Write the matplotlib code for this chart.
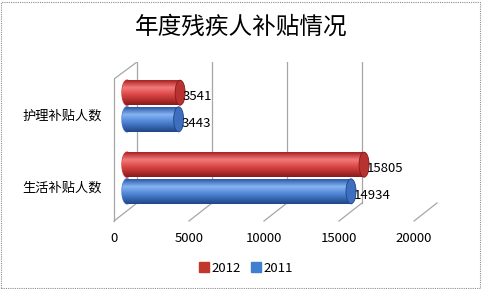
import numpy as np
import matplotlib
matplotlib.use("Agg")
import matplotlib.pyplot as plt
from matplotlib.patches import Ellipse, Patch, Rectangle
from matplotlib.colors import to_rgb

plt.rcParams['font.family'] = ['Noto Sans CJK SC', 'DejaVu Sans']

categories = ["生活补贴人数", "护理补贴人数"]
years = ["2012", "2011"]
values_2012 = [15805, 3541]
values_2011 = [14934, 3443]
xticks = [0, 5000, 10000, 15000, 20000]
title = "年度残疾人补贴情况"

# pixel geometry of the fake 3D frame
W, H = 482, 289
PX0, PX1 = 114, 436          # axes left / right in px
PY_BOT, PY_TOP = 220, 62     # axes bottom / top in px
UPP = 20000 / 300            # value units per px on front plane
DEPTH_X = 23 * UPP           # back wall shift
CAT_PX = 72                  # px per category step
YMIN = -(PY_BOT - 178) / CAT_PX
YMAX = 1 + (106 - PY_TOP) / CAT_PX
START = 13 * UPP             # bars start a little behind the front plane
BAR_H = 25 / CAT_PX
OFF = 0.185


def py(p):
    return YMIN + (PY_BOT - p) / CAT_PX


fig = plt.figure(figsize=(W / 100, H / 100), dpi=100)
ax = fig.add_axes([PX0 / W, 1 - PY_BOT / H, (PX1 - PX0) / W, (PY_BOT - PY_TOP) / H])
ax.set_xlim(0, (PX1 - PX0) * UPP)
ax.set_ylim(YMIN, YMAX)
for s in ax.spines.values():
    s.set_visible(False)

grid_c = "#a6a6a6"
for t in xticks:
    ax.plot([t + DEPTH_X, t + DEPTH_X], [py(203), py(62)], color=grid_c, lw=0.9, zorder=1)
    ax.plot([t, t + DEPTH_X], [py(221), py(203)], color=grid_c, lw=0.9, zorder=1,
            clip_on=False)
ax.plot([0, 0], [py(221), py(79)], color=grid_c, lw=0.9, clip_on=False, zorder=1)
ax.plot([0, DEPTH_X], [py(79), py(62)], color=grid_c, lw=0.9, zorder=1)

ax.set_xticks(xticks)
ax.set_xticklabels([str(t) for t in xticks], fontsize=9.5)
ax.set_yticks(np.arange(len(categories)) - 9 / CAT_PX)
ax.set_yticklabels(categories, fontsize=9.5)
ax.tick_params(axis='x', length=0, pad=9)
ax.tick_params(axis='y', length=0, pad=9)

styles = {
    "2012": dict(top="#a82222", hi="#f47a7a", mid="#d94444", bot="#8a1a1a",
                 cap="#b83232", leg="#c0392b"),
    "2011": dict(top="#2a5aa8", hi="#86b4f2", mid="#4d84d4", bot="#1f4586",
                 cap="#3d6fbe", leg="#3f7fd0"),
}


def gradient(st):
    stops = [(0.0, st["top"]), (0.3, st["hi"]), (0.6, st["mid"]), (1.0, st["bot"])]
    n = 64
    pos = np.linspace(0, 1, n)
    cols = np.zeros((n, 1, 3))
    for ch in range(3):
        cols[:, 0, ch] = np.interp(pos, [p for p, _ in stops],
                                   [to_rgb(c)[ch] for _, c in stops])
    return cols


y = np.arange(len(categories))
cap_w = 10 * UPP
for yr, vals, sign in [("2012", values_2012, 1), ("2011", values_2011, -1)]:
    st = styles[yr]
    yy = y + sign * OFF
    bars = ax.barh(yy, vals, height=BAR_H, left=START, color=st["mid"], zorder=3)
    img = gradient(st)
    for b, v, yc in zip(bars, vals, yy):
        x0, x1 = b.get_x(), b.get_x() + b.get_width()
        y0, y1 = b.get_y(), b.get_y() + b.get_height()
        le = Ellipse((x0, yc), cap_w, BAR_H, color=st["mid"], zorder=3)
        ax.add_patch(le)
        for clip in (b, le):
            im = ax.imshow(img, extent=(x0 - cap_w, x1, y0, y1), aspect='auto',
                           origin='upper', zorder=4)
            im.set_clip_path(clip)
        ax.add_patch(Ellipse((x1, yc), cap_w, BAR_H, facecolor=st["cap"],
                             edgecolor=st["bot"], lw=0.6, zorder=5))
        ax.text(x1 + 3 * UPP, yc - 4 / CAT_PX, f"{v}", fontsize=9.5,
                ha='left', va='center', zorder=6)

ax.set_xlim(0, (PX1 - PX0) * UPP)
ax.set_ylim(YMIN, YMAX)

fig.text(0.5, 1 - 27 / H, title, ha='center', va='center', fontsize=17)

handles = [Patch(color=styles[yr]["leg"]) for yr in years]
fig.legend(handles, years, loc='center', bbox_to_anchor=(246 / W, 1 - 268 / H),
           ncol=2, frameon=False, fontsize=9.5, handlelength=0.7, handleheight=0.7,
           handletextpad=0.2, columnspacing=0.8)

fig.add_artist(Rectangle((1 / W, 1 / H), 1 - 3 / W, 1 - 3 / H, transform=fig.transFigure,
                         fill=False, edgecolor="#8c8c8c", lw=0.8, linestyle=(0, (1, 1))))

fig.savefig("out.png", dpi=100)
